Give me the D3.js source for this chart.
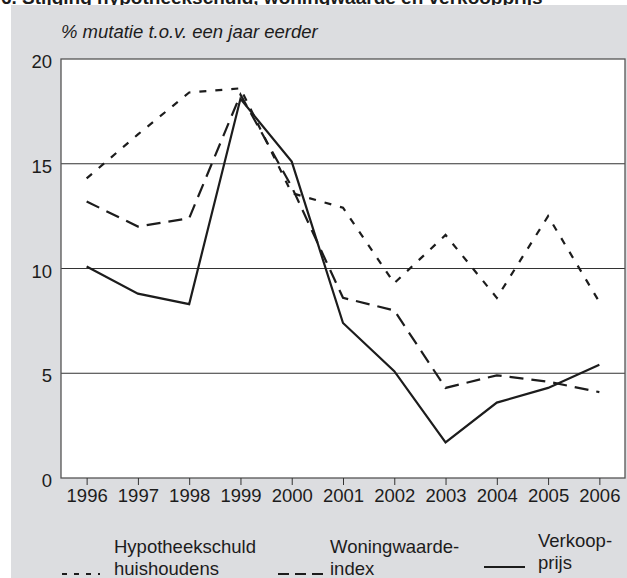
<!DOCTYPE html>
<html>
<head>
<meta charset="utf-8">
<script src="https://cdn.jsdelivr.net/npm/d3@7"></script>
<style>
  body { margin: 0; background: #fff; }
  svg { display: block; font-family: 'Liberation Sans', Arial, sans-serif; }
</style>
</head>
<body>
<svg id="viz"></svg>
<script>
// chart data, % mutatie t.o.v. een jaar eerder
var years = ['1996', '1997', '1998', '1999', '2000', '2001', '2002', '2003', '2004', '2005', '2006'];
var hypotheekschuld = [14.3, 16.4, 18.4, 18.6, 13.6, 12.9, 9.3, 11.6, 8.6, 12.5, 8.4];
var woningwaarde = [13.2, 12.0, 12.4, 18.3, 13.9, 8.6, 8.0, 4.3, 4.9, 4.6, 4.1];
var verkoopprijs = [10.1, 8.8, 8.3, 18.1, 15.1, 7.4, 5.1, 1.7, 3.6, 4.3, 5.4];
var yTicks = [0, 5, 10, 15, 20];
var gridTicks = [5, 10, 15];

var width = 627;
var height = 578;
var plot = { left: 61, right: 625, top: 59, bottom: 478 };
var ink = '#1c1c1c';
var fontSize = '18.5px';

var svg = d3.select('#viz').attr('width', width).attr('height', height);

// title sits above the grey panel, mostly cut off (as in the source)
svg
  .append('text')
  .attr('x', 1)
  .attr('y', 4)
  .style('font-size', '19px')
  .style('font-weight', 'bold')
  .attr('fill', ink)
  .text('6. Stijging hypotheekschuld, woningwaarde en verkoopprijs');

svg
  .append('rect')
  .attr('x', 11)
  .attr('y', 5)
  .attr('width', width - 11)
  .attr('height', height - 5)
  .attr('fill', '#dcdde0');

svg
  .append('text')
  .attr('x', 61)
  .attr('y', 37.5)
  .style('font-size', fontSize)
  .style('font-style', 'italic')
  .attr('fill', ink)
  .text('% mutatie t.o.v. een jaar eerder');

var x = d3.scalePoint().domain(years).range([plot.left, plot.right]).padding(0.5);
var y = d3.scaleLinear().domain([0, 20]).range([plot.bottom, plot.top]);

svg
  .append('rect')
  .attr('x', plot.left)
  .attr('y', plot.top)
  .attr('width', plot.right - plot.left)
  .attr('height', plot.bottom - plot.top)
  .attr('fill', '#fff');

svg
  .selectAll('.grid')
  .data(gridTicks)
  .join('line')
  .attr('class', 'grid')
  .attr('x1', plot.left)
  .attr('x2', plot.right)
  .attr('y1', (d) => y(d))
  .attr('y2', (d) => y(d))
  .attr('stroke', '#333')
  .attr('stroke-width', 1);

var line = d3
  .line()
  .x((d, i) => x(years[i]))
  .y((d) => y(d));

var series = [
  { values: hypotheekschuld, dash: '7,9' },
  { values: woningwaarde, dash: '14,8' },
  { values: verkoopprijs, dash: null }
];

svg
  .selectAll('.serie')
  .data(series)
  .join('path')
  .attr('class', 'serie')
  .attr('d', (d) => line(d.values))
  .attr('fill', 'none')
  .attr('stroke', ink)
  .attr('stroke-width', 2.2)
  .attr('stroke-linejoin', 'miter')
  .attr('stroke-dasharray', (d) => d.dash);

// frame
svg
  .append('rect')
  .attr('x', plot.left)
  .attr('y', plot.top)
  .attr('width', plot.right - plot.left)
  .attr('height', plot.bottom - plot.top)
  .attr('fill', 'none')
  .attr('stroke', '#555')
  .attr('stroke-width', 1.3);

var xAxis = svg
  .append('g')
  .attr('transform', 'translate(0,' + plot.bottom + ')')
  .call(d3.axisBottom(x).tickSize(7).tickPadding(4));
xAxis.select('.domain').remove();
xAxis.selectAll('line').attr('stroke', '#333');
xAxis
  .selectAll('text')
  .style('font-size', fontSize)
  .style('font-family', 'Liberation Sans, Arial, sans-serif')
  .attr('fill', ink);

var yAxis = svg
  .append('g')
  .attr('transform', 'translate(' + plot.left + ',0)')
  .call(d3.axisLeft(y).tickValues(yTicks).tickSize(0).tickPadding(9));
yAxis.select('.domain').remove();
yAxis
  .selectAll('text')
  .attr('dy', '0.47em')
  .style('font-size', fontSize)
  .style('font-family', 'Liberation Sans, Arial, sans-serif')
  .attr('fill', ink);

// legend
var legend = [
  { lines: ['Hypotheekschuld', 'huishoudens'], dash: '5,7', x1: 62, x2: 100, ly: 574, tx: 114, ty: 553 },
  { lines: ['Woningwaarde-', 'index'], dash: '11,6', x1: 278, x2: 324, ly: 574, tx: 330, ty: 553 },
  { lines: ['Verkoop-', 'prijs'], dash: null, x1: 484, x2: 525, ly: 567, tx: 538, ty: 547 }
];

var items = svg.selectAll('.legend').data(legend).join('g').attr('class', 'legend');

items
  .append('line')
  .attr('x1', (d) => d.x1)
  .attr('x2', (d) => d.x2)
  .attr('y1', (d) => d.ly)
  .attr('y2', (d) => d.ly)
  .attr('stroke', ink)
  .attr('stroke-width', 2)
  .attr('stroke-dasharray', (d) => d.dash);

items
  .append('text')
  .attr('x', (d) => d.tx)
  .attr('y', (d) => d.ty)
  .style('font-size', fontSize)
  .attr('fill', ink)
  .selectAll('tspan')
  .data((d) => d.lines.map((t) => ({ t: t, x: d.tx })))
  .join('tspan')
  .attr('x', (d) => d.x)
  .attr('dy', (d, i) => (i == 0 ? 0 : 21.5))
  .text((d) => d.t);
</script>
</body>
</html>
